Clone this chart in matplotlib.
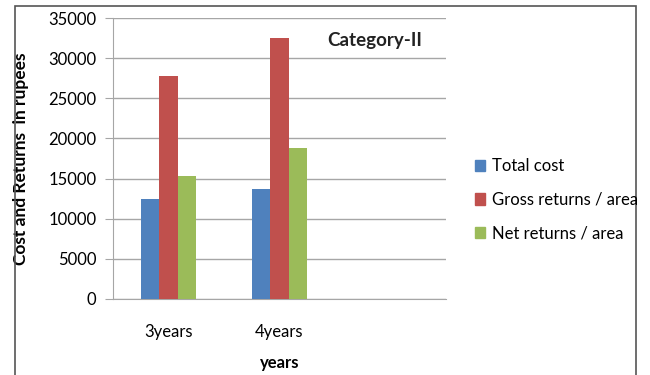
import numpy as np
import matplotlib.pyplot as plt
from matplotlib.patches import Rectangle, Patch

# data
categories = ['3years', '4years', '']
total_cost = [12500, 13650, np.nan]
gross_returns = [27800, 32470, np.nan]
net_returns = [15300, 18800, np.nan]
series_names = ['Total cost', 'Gross returns / area', 'Net returns / area']
colors = ['#4F81BD', '#C0504D', '#9BBB59']


def main():
    plt.rcParams['font.family'] = ['Lato', 'DejaVu Sans']
    fig = plt.figure(figsize=(6.5, 3.75), dpi=100)
    ax = fig.add_axes([0.174, 0.2027, 0.512, 0.749])

    x = np.arange(len(categories))
    w = 0.167
    for i, vals in enumerate([total_cost, gross_returns, net_returns]):
        ax.bar(x + (i - 1) * w, vals, width=w, color=colors[i], zorder=3,
               label=series_names[i])

    ax.set_xlim(-0.5, 2.5)
    ax.set_ylim(0, 35000)
    ax.set_yticks(range(0, 35001, 5000))
    ax.set_xticks(x)
    ax.set_xticklabels(categories)
    ax.grid(axis='y', color='#A6A6A6', linewidth=1, zorder=0)
    ax.tick_params(axis='y', length=6, color='#A6A6A6', labelsize=12, pad=6)
    ax.tick_params(axis='x', length=0, labelsize=12, pad=18)
    for s in ['top', 'right']:
        ax.spines[s].set_visible(False)
    ax.spines['left'].set_color('#A6A6A6')
    ax.spines['bottom'].set_color('#A6A6A6')

    ax.set_ylabel('Cost and Returns  in rupees', fontsize=12.5, fontweight='bold', labelpad=14)
    ax.set_xlabel('years', fontsize=12, fontweight='bold', labelpad=11)
    ax.text(0.93, 0.92, 'Category-II', transform=ax.transAxes, ha='right', va='center',
            fontsize=13.5, fontweight='bold', color='#222222')

    handles = [Patch(color=c) for c in colors]
    fig.legend(handles, series_names, loc='center left', bbox_to_anchor=(0.73, 0.467),
               frameon=False, fontsize=12, handlelength=0.65, handleheight=0.65,
               handletextpad=0.4, labelspacing=1.05, borderaxespad=0, borderpad=0)

    # outer chart border
    fig.patches.append(Rectangle((15 / 650, -0.1), 621 / 650, 1.1 - 6 / 375,
                                 transform=fig.transFigure, fill=False,
                                 edgecolor='#555555', linewidth=1.2))

    fig.savefig('out.png', dpi=100)


if __name__ == "__main__":
    main()
